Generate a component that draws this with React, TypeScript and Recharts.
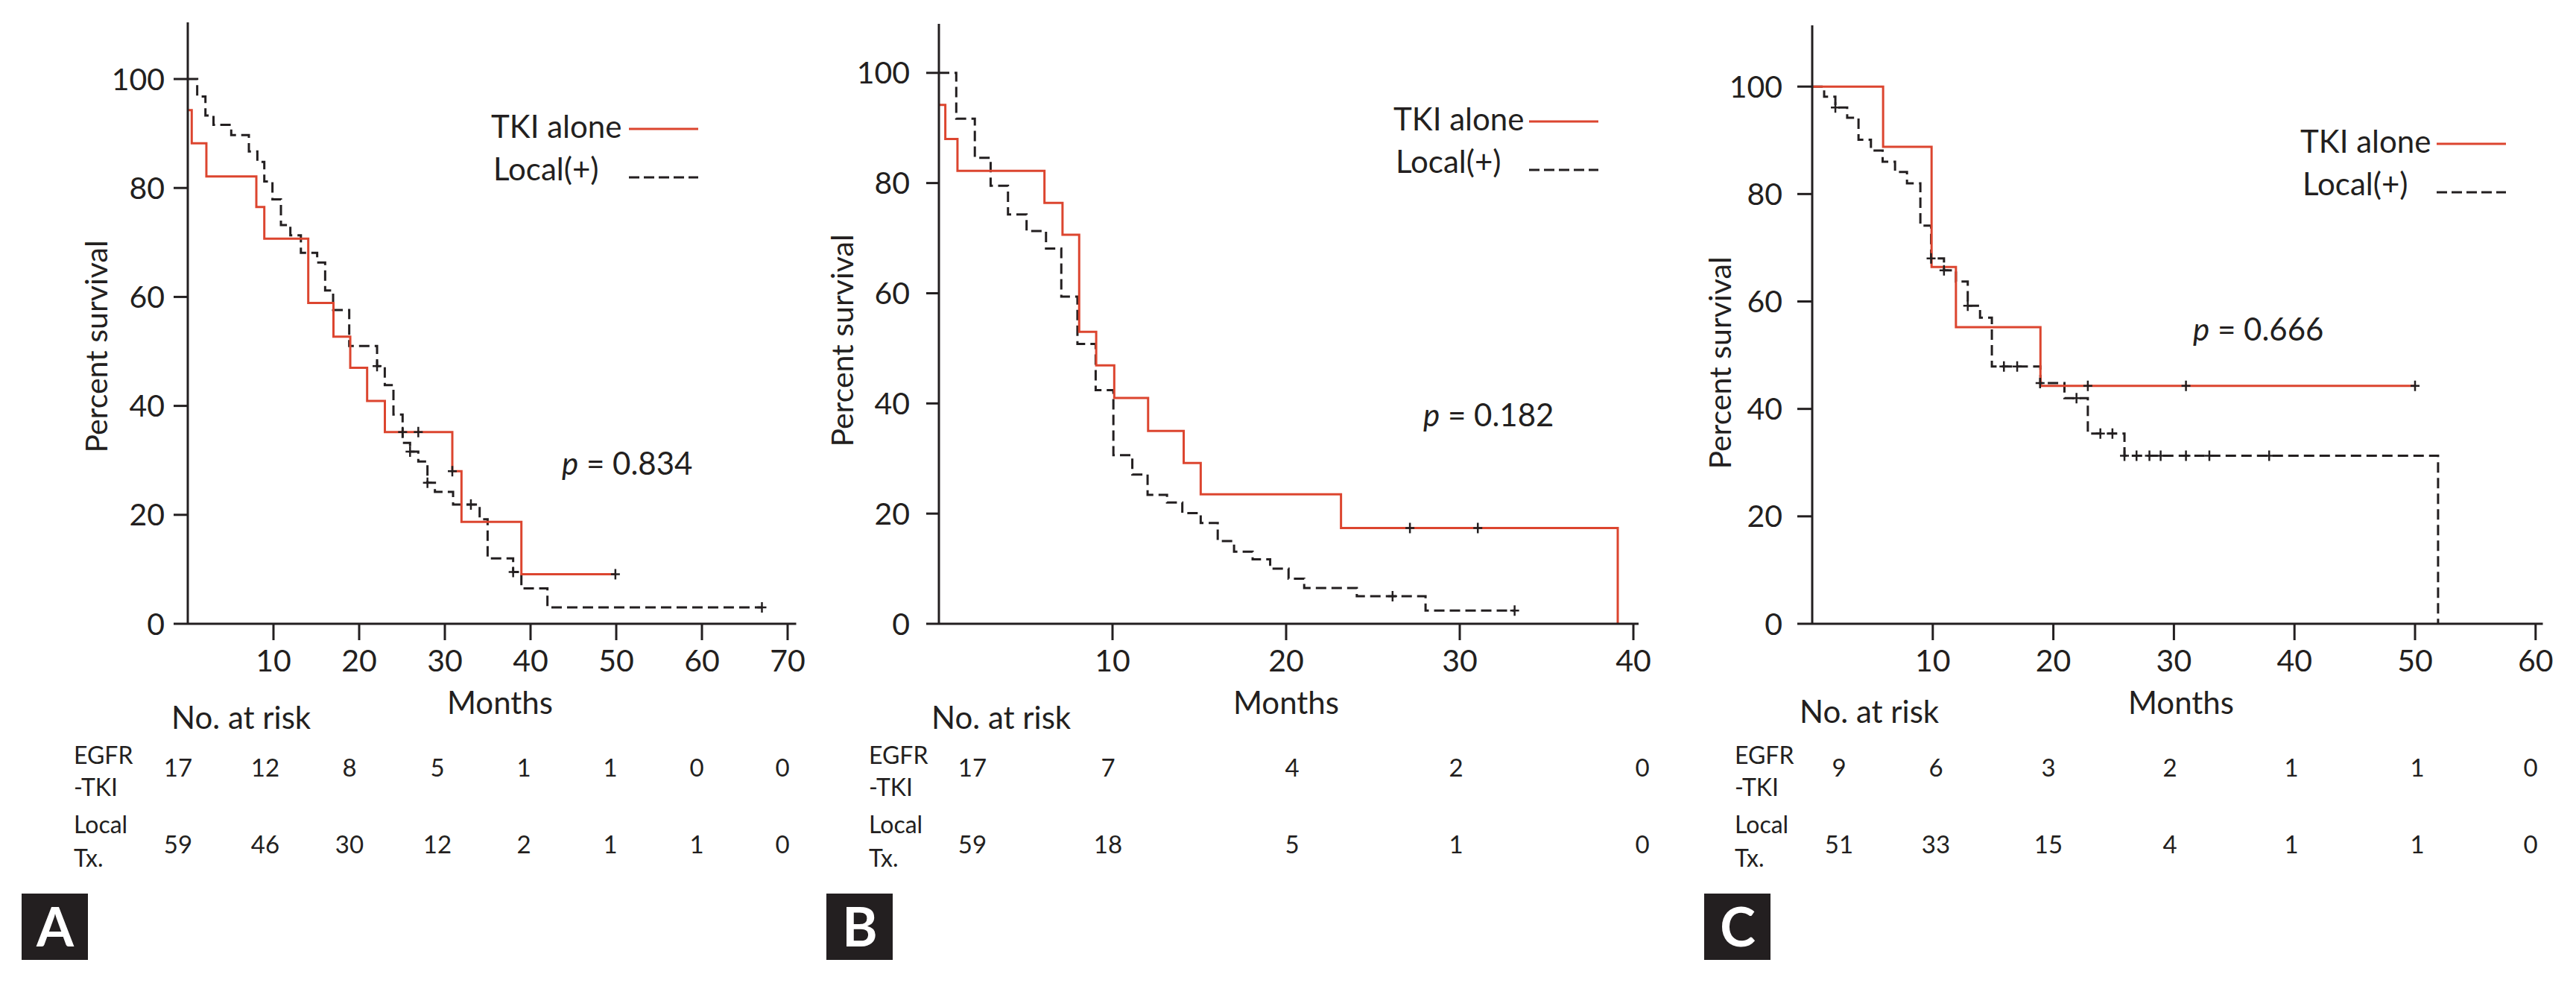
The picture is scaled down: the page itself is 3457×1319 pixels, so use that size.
import React from 'react'
import { ComposedChart, Line, XAxis, YAxis } from 'recharts'

const INK = '#231f20'
const RED = '#dc452f'
const FONT = 'Lato, "Open Sans", "Liberation Sans", sans-serif'

// ---- A ----
const aTkiMonths = [0, 0.46, 2.17, 8.0, 8.93, 14.06, 17.0, 18.96, 20.93, 23.0, 30.87, 31.94, 38.93, 49.9]
const aTkiSurv = [94.3, 88.2, 82.1, 76.5, 70.7, 58.9, 52.7, 47.0, 40.9, 35.2, 28.0, 18.7, 9.1, 9.1]
const aLocalMonths = [0, 1.1, 2.06, 3.0, 5.07, 7.13, 8.12, 8.93, 9.88, 10.87, 11.97, 13.2, 15.1, 16.03, 16.96, 18.84, 22.09, 22.99, 24.0, 25.07, 25.94, 26.9, 27.97, 28.84, 30.96, 34.06, 34.99, 37.97, 38.93, 41.97, 67]
const aLocalSurv = [100, 96.8, 93.3, 91.6, 89.7, 86.7, 84.8, 81.2, 77.9, 73.2, 71.3, 68.1, 66.3, 61.2, 57.6, 51.0, 47.3, 43.8, 38.4, 33.2, 31.6, 29.8, 25.9, 24.2, 21.9, 19.2, 12.0, 9.5, 6.5, 3.0, 3.0]
const aTkiCensMonths = [26.9, 30.87, 49.9]
const aTkiCensSurv = [35.2, 28.0, 9.1]
const aLocalCensMonths = [22.09, 25.07, 25.94, 27.97, 33.04, 37.97, 67]
const aLocalCensSurv = [47.3, 35.2, 31.6, 25.9, 21.9, 9.5, 3.0]
const aRiskTki = [17, 12, 8, 5, 1, 1, 0, 0]
const aRiskLocal = [59, 46, 30, 12, 2, 1, 1, 0]
const aXTicks = [10, 20, 30, 40, 50, 60, 70]

// ---- B ----
const bTkiMonths = [0, 0.37, 1.07, 6.08, 7.12, 8.08, 9.06, 10.1, 12.05, 14.1, 15.08, 23.16, 39.1]
const bTkiSurv = [94.2, 88.0, 82.2, 76.4, 70.6, 53.0, 46.9, 41.0, 35.0, 29.2, 23.5, 17.4, 0]
const bLocalMonths = [0, 1.0, 2.07, 2.98, 3.98, 5.05, 6.17, 7.05, 7.98, 9.03, 10.05, 11.14, 12.02, 13.14, 14.02, 15.08, 16.06, 17.0, 18.07, 19.08, 20.14, 21.04, 24.07, 28.03, 33.16]
const bLocalSurv = [100, 91.7, 84.6, 79.5, 74.3, 71.3, 68.1, 59.4, 50.8, 42.4, 30.6, 27.1, 23.4, 22.0, 20.1, 18.3, 15.0, 13.1, 11.7, 10.0, 8.2, 6.5, 5.0, 2.4, 2.4]
const bTkiCensMonths = [27.13, 31.04]
const bTkiCensSurv = [17.4, 17.4]
const bLocalCensMonths = [26.13, 33.16]
const bLocalCensSurv = [5.0, 2.4]
const bRiskTki = [17, 7, 4, 2, 0]
const bRiskLocal = [59, 18, 5, 1, 0]
const bXTicks = [10, 20, 30, 40]

// ---- C ----
const cTkiMonths = [0, 5.88, 9.9, 11.92, 18.93, 50.0]
const cTkiSurv = [100, 88.8, 66.4, 55.2, 44.3, 44.3]
const cLocalMonths = [0, 0.99, 1.92, 2.9, 3.84, 4.87, 5.84, 6.87, 7.86, 8.97, 9.86, 10.93, 11.92, 12.9, 13.92, 14.9, 18.93, 20.92, 22.86, 25.9, 51.91]
const cLocalSurv = [100, 98.1, 96.1, 94.2, 90.1, 88.1, 86.0, 84.1, 82.0, 74.1, 68.0, 65.8, 63.7, 59.2, 57.0, 47.9, 44.8, 42.0, 35.4, 31.3, 0]
const cTkiCensMonths = [22.86, 31.0, 50.0]
const cTkiCensSurv = [44.3, 44.3, 44.3]
const cLocalCensMonths = [1.92, 9.86, 10.93, 12.9, 15.9, 17.0, 18.9, 21.92, 23.9, 24.9, 25.9, 26.9, 27.97, 28.9, 31.0, 32.94, 37.9]
const cLocalCensSurv = [96.1, 68.0, 65.8, 59.2, 47.9, 47.9, 44.8, 42.0, 35.4, 35.4, 31.3, 31.3, 31.3, 31.3, 31.3, 31.3, 31.3]
const cRiskTki = [9, 6, 3, 2, 1, 1, 0]
const cRiskLocal = [51, 33, 15, 4, 1, 1, 0]
const cXTicks = [10, 20, 30, 40, 50, 60]

const yTicks = [0, 20, 40, 60, 80, 100]

const zip = (ts: number[], ss: number[]) => ts.map((t, i) => ({ t, s: ss[i] }))

// layout of each panel (page pixels)
const panels = [
  {
    id: 'A', x0: 252, ppm: 11.5, xMax: 71, top: 30, y0: 837, yMax: 110.4, yTick: 19, yGap: 12,
    xTicks: aXTicks, p: '0.834',
    tki: zip(aTkiMonths, aTkiSurv), local: zip(aLocalMonths, aLocalSurv),
    tkiCens: zip(aTkiCensMonths, aTkiCensSurv), localCens: zip(aLocalCensMonths, aLocalCensSurv),
    riskTki: aRiskTki, riskLocal: aRiskLocal,
    riskX: [239, 356, 469, 587, 703, 819, 935, 1050], rowX: 99,
    legX: 659, legLineX: 844, legY: 185, pX: 754, pY: 637,
    ylabX: 144, ylabY: 465, monthsX: 671, riskTitleX: 230, riskTitleY: 978, boxX: 29,
  },
  {
    id: 'B', x0: 1259.5, ppm: 23.3, xMax: 40.3, top: 32, y0: 837, yMax: 108.9, yTick: 17, yGap: 22,
    xTicks: bXTicks, p: '0.182',
    tki: zip(bTkiMonths, bTkiSurv), local: zip(bLocalMonths, bLocalSurv),
    tkiCens: zip(bTkiCensMonths, bTkiCensSurv), localCens: zip(bLocalCensMonths, bLocalCensSurv),
    riskTki: bRiskTki, riskLocal: bRiskLocal,
    riskX: [1305, 1487, 1734, 1954, 2204], rowX: 1166,
    legX: 1870, legLineX: 2052, legY: 175, pX: 1910, pY: 572,
    ylabX: 1145, ylabY: 457, monthsX: 1726, riskTitleX: 1250, riskTitleY: 978, boxX: 1109,
  },
  {
    id: 'C', x0: 2432.3, ppm: 16.18, xMax: 60.6, top: 34, y0: 837, yMax: 111.4, yTick: 20, yGap: 20,
    xTicks: cXTicks, p: '0.666',
    tki: zip(cTkiMonths, cTkiSurv), local: zip(cLocalMonths, cLocalSurv),
    tkiCens: zip(cTkiCensMonths, cTkiCensSurv), localCens: zip(cLocalCensMonths, cLocalCensSurv),
    riskTki: cRiskTki, riskLocal: cRiskLocal,
    riskX: [2468, 2598, 2749, 2912, 3075, 3244, 3396], rowX: 2328,
    legX: 3087, legLineX: 3270, legY: 205, pX: 2943, pY: 457,
    ylabX: 2323, ylabY: 487, monthsX: 2927, riskTitleX: 2415, riskTitleY: 970, boxX: 2287,
  },
]

const plus = (props: any) => {
  const { cx, cy, index } = props
  if (cx == null || cy == null) return <g key={index} />
  return (
    <path
      key={index}
      d={`M${cx - 6},${cy}H${cx + 6}M${cx},${cy - 7}V${cy + 7}`}
      stroke={INK}
      strokeWidth={2.5}
      fill="none"
    />
  )
}

const YW = 140
const MT = 10
const MR = 20
const XH = 90

function Panel({ cfg }: { cfg: (typeof panels)[number] }) {
  const plotW = cfg.xMax * cfg.ppm
  const plotH = cfg.y0 - cfg.top
  const tickStyle = { fill: INK, fontSize: 41, fontFamily: FONT }
  return (
    <div style={{ position: 'absolute', left: cfg.x0 - YW, top: cfg.top - MT }}>
      <ComposedChart
        width={YW + plotW + MR}
        height={MT + plotH + XH}
        margin={{ top: MT, right: MR, bottom: 0, left: 0 }}
      >
        <XAxis
          type="number"
          dataKey="t"
          domain={[0, cfg.xMax]}
          allowDataOverflow
          ticks={cfg.xTicks}
          interval={0}
          height={XH}
          axisLine={{ stroke: INK, strokeWidth: 3 }}
          tickLine={{ stroke: INK, strokeWidth: 3 }}
          tickSize={22}
          tickMargin={13}
          tick={tickStyle}
        />
        <YAxis
          type="number"
          domain={[0, cfg.yMax]}
          allowDataOverflow
          ticks={yTicks}
          interval={0}
          width={YW}
          axisLine={{ stroke: INK, strokeWidth: 3 }}
          tickLine={{ stroke: INK, strokeWidth: 3 }}
          tickSize={cfg.yTick}
          tickMargin={cfg.yGap}
          tick={tickStyle}
        />
        <Line
          data={cfg.local}
          dataKey="s"
          type="stepAfter"
          stroke={INK}
          strokeWidth={3}
          strokeDasharray="14 7"
          dot={false}
          activeDot={false}
          isAnimationActive={false}
        />
        <Line
          data={cfg.tki}
          dataKey="s"
          type="stepAfter"
          stroke={RED}
          strokeWidth={3}
          dot={false}
          activeDot={false}
          isAnimationActive={false}
        />
        <Line
          data={cfg.localCens}
          dataKey="s"
          stroke="none"
          dot={plus}
          activeDot={false}
          isAnimationActive={false}
        />
        <Line
          data={cfg.tkiCens}
          dataKey="s"
          stroke="none"
          dot={plus}
          activeDot={false}
          isAnimationActive={false}
        />
      </ComposedChart>
    </div>
  )
}

const T = ({ x, y, size = 42, anchor = 'start', children, ...rest }: any) => (
  <text x={x} y={y} fontSize={size} fontFamily={FONT} fill={INK} textAnchor={anchor} {...rest}>
    {children}
  </text>
)

function Overlay() {
  return (
    <svg
      width={3457}
      height={1319}
      style={{ position: 'absolute', left: 0, top: 0, pointerEvents: 'none' }}
    >
      {panels.map((c) => (
        <g key={c.id}>
          {/* legend */}
          <T x={c.legX} y={c.legY}>TKI alone</T>
          <T x={c.legX + 3} y={c.legY + 57}>Local(+)</T>
          <line x1={c.legLineX} x2={c.legLineX + 93} y1={c.legY - 12} y2={c.legY - 12} stroke={RED} strokeWidth={3} />
          <line x1={c.legLineX} x2={c.legLineX + 93} y1={c.legY + 53} y2={c.legY + 53} stroke={INK} strokeWidth={3} strokeDasharray="14 6" />
          <T x={c.pX} y={c.pY}>
            <tspan fontStyle="italic">p</tspan>
            {' = ' + c.p}
          </T>
          {/* axis titles */}
          <g transform={`translate(${c.ylabX},${c.ylabY}) rotate(-90)`}>
            <T x={0} y={0} size={41} anchor="middle">Percent survival</T>
          </g>
          <T x={c.monthsX} y={958} anchor="middle">Months</T>
          {/* risk table */}
          <T x={c.riskTitleX} y={c.riskTitleY}>No. at risk</T>
          <T x={c.rowX} y={1025} size={32}>EGFR</T>
          <T x={c.rowX} y={1068} size={32}>-TKI</T>
          <T x={c.rowX} y={1118} size={32}>Local</T>
          <T x={c.rowX} y={1163} size={32}>Tx.</T>
          {c.riskTki.map((n, i) => (
            <T key={'t' + i} x={c.riskX[i]} y={1042} size={33} anchor="middle">{n}</T>
          ))}
          {c.riskLocal.map((n, i) => (
            <T key={'l' + i} x={c.riskX[i]} y={1145} size={33} anchor="middle">{n}</T>
          ))}
          {/* panel letter */}
          <rect x={c.boxX} y={1199} width={89} height={89} fill={INK} />
          <text
            x={c.boxX + 45}
            y={1270}
            fontSize={72}
            fontWeight={700}
            fontFamily={FONT}
            fill="#fff"
            textAnchor="middle"
          >
            {c.id}
          </text>
        </g>
      ))}
    </svg>
  )
}

export default function App() {
  return (
    <div
      style={{
        position: 'absolute',
        left: 0,
        top: 0,
        width: 3457,
        height: 1319,
        background: '#fff',
        overflow: 'hidden',
      }}
    >
      {panels.map((c) => (
        <Panel key={c.id} cfg={c} />
      ))}
      <Overlay />
    </div>
  )
}
